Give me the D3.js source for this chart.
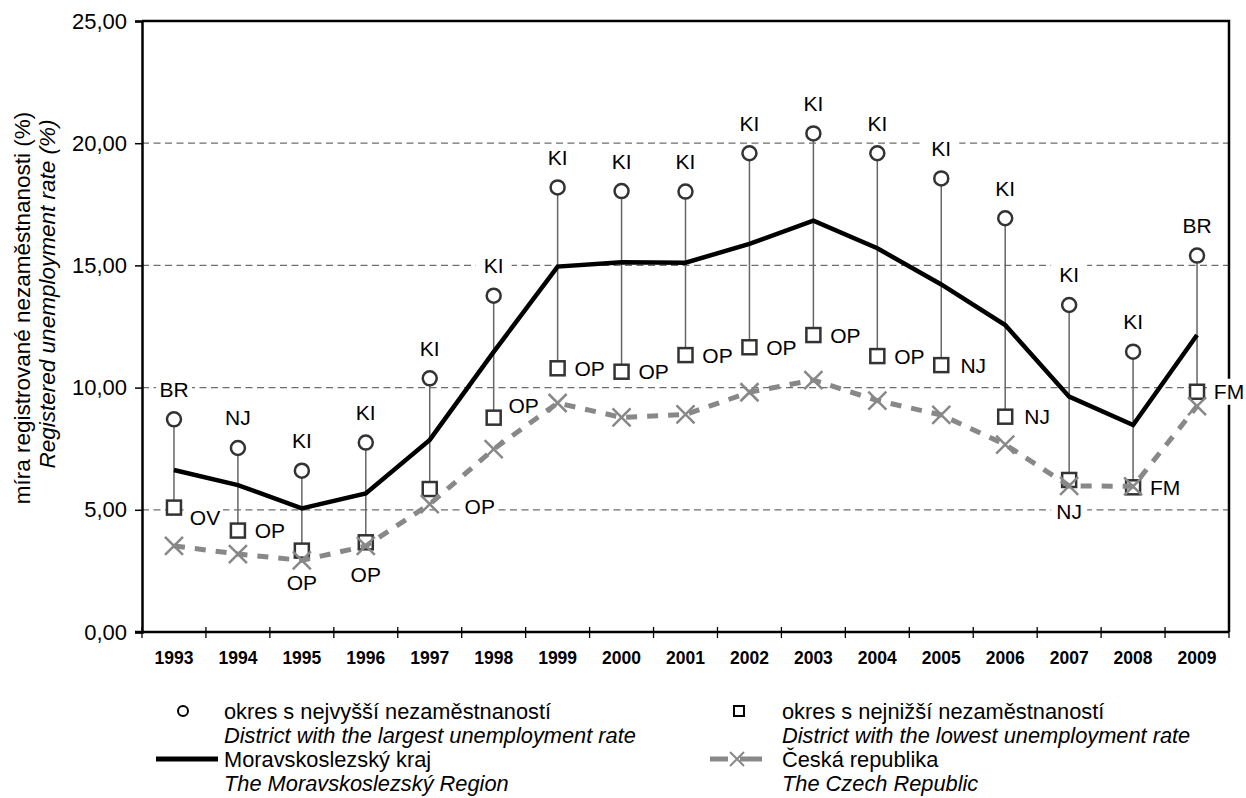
<!DOCTYPE html>
<html>
<head>
<meta charset="utf-8">
<script src="https://cdn.jsdelivr.net/npm/d3@7"></script>
<style>
  html, body { margin: 0; padding: 0; background: #fff; }
  svg { display: block; font-family: "Liberation Sans", Arial, sans-serif; }
</style>
</head>
<body>
<svg id="chart" width="1246" height="798"></svg>
<script>
const years = ["1993","1994","1995","1996","1997","1998","1999","2000","2001","2002","2003","2004","2005","2006","2007","2008","2009"];
const maxValues = [8.70, 7.53, 6.60, 7.75, 10.38, 13.76, 18.19, 18.04, 18.02, 19.59, 20.40, 19.59, 18.56, 16.93, 13.38, 11.47, 15.40];
const maxDistricts = ["BR","NJ","KI","KI","KI","KI","KI","KI","KI","KI","KI","KI","KI","KI","KI","KI","BR"];
const minValues = [5.09, 4.15, 3.33, 3.67, 5.85, 8.77, 10.79, 10.65, 11.33, 11.65, 12.15, 11.29, 10.92, 8.81, 6.22, 5.92, 9.83];
const minDistricts = ["OV","OP","OP","OP","OP","OP","OP","OP","OP","OP","OP","OP","NJ","NJ","NJ","FM","FM"];
const minLabelPlacement = ["rightLow","right","below","below","rightLow2","rightHigh","right","right","right","right","right","right","right","right","below","right","right"];
const mskValues = [6.63, 6.01, 5.06, 5.67, 7.86, 11.46, 14.95, 15.13, 15.11, 15.88, 16.83, 15.70, 14.22, 12.56, 9.63, 8.47, 12.15];
const czValues = [3.52, 3.19, 2.93, 3.52, 5.23, 7.48, 9.37, 8.78, 8.90, 9.81, 10.31, 9.47, 8.88, 7.67, 5.98, 5.96, 9.24];
const yTicks = [0, 5, 10, 15, 20, 25];
const yTitle = ["míra registrované nezaměstnanosti (%)", "Registered unemployment rate (%)"];
const legendItems = [
  ["okres s nejvyšší nezaměstnaností", "District with the largest unemployment rate"],
  ["okres s nejnižší nezaměstnaností", "District with the lowest unemployment rate"],
  ["Moravskoslezský kraj", "The Moravskoslezský Region"],
  ["Česká republika", "The Czech Republic"]
];

const svg = d3.select("#chart");
const L = 142, R = 1229, T = 21, B = 632;
const x = d3.scaleBand().domain(years).range([L, R]).padding(0);
const cx = d => x(d) + x.bandwidth() / 2;
const y = d3.scaleLinear().domain([0, 25]).range([B, T]);

const rows = years.map((yr, i) => ({
  yr, max: maxValues[i], maxD: maxDistricts[i], min: minValues[i], minD: minDistricts[i],
  pos: minLabelPlacement[i], msk: mskValues[i], cz: czValues[i]
}));

// gridlines
svg.append("g").selectAll("line").data(yTicks.filter(t => t > 0 && t < 25)).join("line")
  .attr("x1", L).attr("x2", R).attr("y1", d => y(d)).attr("y2", d => y(d))
  .attr("stroke", "#6e6e6e").attr("stroke-width", 1.2).attr("stroke-dasharray", "7,4.5");

// frame top/right
svg.append("path").attr("d", `M${L},${T}H${R}V${B}`).attr("fill", "none").attr("stroke", "#000").attr("stroke-width", 2.5);

// Y axis
const yAxis = d3.axisLeft(y).tickValues(yTicks).tickSize(7).tickPadding(8)
  .tickFormat(d => d3.format(".2f")(d).replace(".", ","));
const gy = svg.append("g").attr("transform", `translate(${L},0)`).call(yAxis);
gy.select(".domain").attr("stroke", "#000").attr("stroke-width", 2.5);
gy.selectAll(".tick line").attr("stroke", "#000").attr("stroke-width", 1.5);
gy.selectAll(".tick text").attr("font-size", 22).attr("fill", "#000")
  .attr("font-family", "Liberation Sans, Arial, sans-serif");

// X axis
const xAxis = d3.axisBottom(x).tickSize(0).tickPadding(20);
const gx = svg.append("g").attr("transform", `translate(0,${B})`).call(xAxis);
gx.select(".domain").remove();
gx.selectAll(".tick text").attr("font-size", 17.5).attr("fill", "#000").attr("font-weight", "bold")
  .attr("font-family", "Liberation Sans, Arial, sans-serif");
svg.append("line").attr("x1", L - 7).attr("x2", R).attr("y1", B).attr("y2", B)
  .attr("stroke", "#000").attr("stroke-width", 2.5);
const bounds = years.map(d => x(d)).concat([R]);
svg.append("g").selectAll("line").data(bounds).join("line")
  .attr("x1", d => d).attr("x2", d => d).attr("y1", B - 5).attr("y2", B + 6)
  .attr("stroke", "#000").attr("stroke-width", 1.3);

// axis title
const titleG = svg.append("g");
titleG.append("text").attr("transform", `translate(22,308) rotate(-90)`)
  .attr("text-anchor", "middle").attr("dominant-baseline", "central")
  .attr("font-size", 22.5).text(yTitle[0]);
titleG.append("text").attr("transform", `translate(47,294) rotate(-90)`)
  .attr("text-anchor", "middle").attr("dominant-baseline", "central")
  .attr("font-size", 22.5).attr("font-style", "italic").text(yTitle[1]);

// label layout
const FS = 21;
function minLabelXY(d) {
  const px = cx(d.yr), py = y(d.min);
  switch (d.pos) {
    case "rightLow": return [px + 31, py + 10];
    case "rightLow2": return [px + 50, py + 17];
    case "rightHigh": return [px + 30, py - 12];
    case "below": return [px, py + 32];
    default: return [px + 32, py];
  }
}
const labels = [];
rows.forEach(d => {
  labels.push({ t: d.maxD, x: cx(d.yr), y: y(d.max) - 30 });
  const [lx, ly] = minLabelXY(d);
  labels.push({ t: d.minD, x: lx, y: ly });
});

// label background boxes (hide grid/frame)
svg.append("g").selectAll("rect").data(labels).join("rect")
  .attr("x", d => d.x - d.t.length * 8 - 2).attr("width", d => d.t.length * 16 + 4)
  .attr("y", d => d.y - 13).attr("height", 26).attr("fill", "#fff");

// stems
svg.append("g").selectAll("line").data(rows).join("line")
  .attr("x1", d => cx(d.yr)).attr("x2", d => cx(d.yr))
  .attr("y1", d => y(d.max)).attr("y2", d => y(d.min))
  .attr("stroke", "#666").attr("stroke-width", 1.5);

// MSK line
svg.append("path").datum(rows)
  .attr("d", d3.line().x(d => cx(d.yr)).y(d => y(d.msk)))
  .attr("fill", "none").attr("stroke", "#000").attr("stroke-width", 4.5).attr("stroke-linejoin", "miter");

// circles
svg.append("g").selectAll("circle").data(rows).join("circle")
  .attr("cx", d => cx(d.yr)).attr("cy", d => y(d.max)).attr("r", 7)
  .attr("fill", "#fff").attr("stroke", "#333").attr("stroke-width", 2.5);

// squares
svg.append("g").selectAll("rect").data(rows).join("rect")
  .attr("x", d => cx(d.yr) - 7).attr("y", d => y(d.min) - 7).attr("width", 14).attr("height", 14)
  .attr("fill", "#fff").attr("stroke", "#333").attr("stroke-width", 2.5);

// CZ line
svg.append("path").datum(rows)
  .attr("d", d3.line().x(d => cx(d.yr)).y(d => y(d.cz)))
  .attr("fill", "none").attr("stroke", "#888").attr("stroke-width", 5).attr("stroke-dasharray", "11,10");
const xMark = s => `M${-s},${-s}L${s},${s}M${-s},${s}L${s},${-s}`;
svg.append("g").selectAll("path").data(rows).join("path")
  .attr("transform", d => `translate(${cx(d.yr)},${y(d.cz)})`)
  .attr("d", xMark(9)).attr("stroke", "#888").attr("stroke-width", 2.5).attr("fill", "none");

// label texts
svg.append("g").selectAll("text").data(labels).join("text")
  .attr("x", d => d.x).attr("y", d => d.y).attr("text-anchor", "middle")
  .attr("dominant-baseline", "central").attr("font-size", FS).attr("fill", "#000").text(d => d.t);

// legend
const lg = svg.append("g").attr("font-size", 21.8).attr("fill", "#000");
const lx1 = 224, lx2 = 782, ly = [711, 735, 759, 783];
lg.append("circle").attr("cx", 183).attr("cy", ly[0]).attr("r", 5).attr("fill", "#fff").attr("stroke", "#000").attr("stroke-width", 2);
lg.append("rect").attr("x", 734).attr("y", ly[0] - 5).attr("width", 10).attr("height", 10).attr("fill", "#fff").attr("stroke", "#000").attr("stroke-width", 2);
lg.append("line").attr("x1", 156).attr("x2", 218).attr("y1", ly[2]).attr("y2", ly[2]).attr("stroke", "#000").attr("stroke-width", 5);
lg.append("line").attr("x1", 710).attr("x2", 762).attr("y1", ly[2]).attr("y2", ly[2]).attr("stroke", "#888").attr("stroke-width", 5).attr("stroke-dasharray", "18,12,22");
lg.append("path").attr("transform", `translate(737,${ly[2]})`).attr("d", xMark(7)).attr("stroke", "#888").attr("stroke-width", 2).attr("fill", "none");

const legPos = [[lx1, 0], [lx2, 0], [lx1, 2], [lx2, 2]];
legendItems.forEach((it, i) => {
  const [xx, r] = legPos[i];
  lg.append("text").attr("x", xx).attr("y", ly[r]).attr("dominant-baseline", "central").text(it[0]);
  lg.append("text").attr("x", xx).attr("y", ly[r + 1]).attr("dominant-baseline", "central").attr("font-style", "italic").text(it[1]);
});
</script>
</body>
</html>
